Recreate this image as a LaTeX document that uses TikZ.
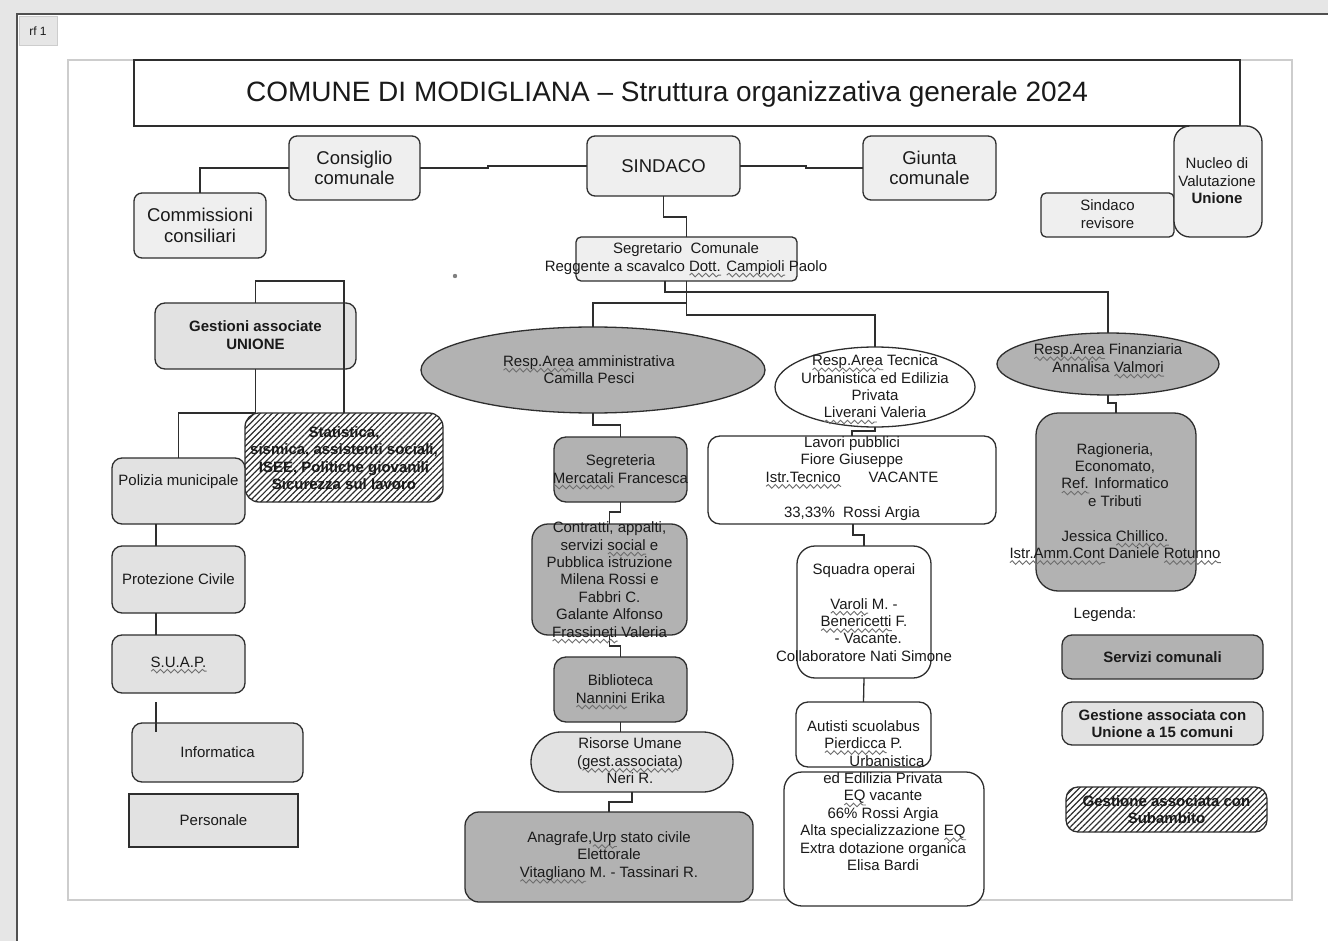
\documentclass[tikz,border=0pt]{standalone}
\usepackage{fontspec}
\setmainfont{Liberation Sans}
\usetikzlibrary{shapes.geometric,patterns.meta,decorations.pathmorphing}
\definecolor{ln}{HTML}{2E2E2E}
\definecolor{lightf}{HTML}{EFEFEF}
\definecolor{darkf}{HTML}{B2B2B2}
\definecolor{marble}{HTML}{E2E2E2}
\definecolor{txtc}{HTML}{1A1A1A}
\definecolor{frameg}{HTML}{E6E6E6}
\definecolor{framel}{HTML}{505050}
\definecolor{pageg}{HTML}{CDCDCD}
\definecolor{sqc}{HTML}{6E6E6E}
\newsavebox\sqbox
\newlength\sqlen
\newcommand\sq[1]{\sbox\sqbox{#1}\setlength\sqlen{\wd\sqbox}\rlap{\smash{\tikz[baseline=0pt]\draw[sqc,line width=0.9pt,decorate,decoration={snake,amplitude=1.8pt,segment length=7pt}] (0pt,-4pt) -- (\sqlen,-4pt);}}#1}
\newcommand\myfs{\fontsize{15}{17.4}\selectfont}
\newcommand\myfm{\fontsize{18.5}{20.5}\selectfont}
\newcommand\myft{\fontsize{28}{32}\selectfont}
\begin{document}
\begin{tikzpicture}[x=1pt,y=-1pt,
  every node/.style={inner sep=0pt,outer sep=0pt},
  wh/.style 2 args={minimum width=#1pt,minimum height=#2pt},
  boxl/.style={draw=ln,line width=1.3pt,fill=lightf,rounded corners=8pt},
  boxd/.style={draw=ln,line width=1.3pt,fill=darkf,rounded corners=8pt},
  boxm/.style={draw=ln,line width=1.3pt,fill=marble,rounded corners=8pt},
  boxw/.style={draw=ln,line width=1.3pt,fill=white,rounded corners=10pt},
  boxh/.style={draw=ln,line width=1.3pt,preaction={fill=white},
     pattern={Lines[angle=45,distance=4.2pt,line width=1.2pt]},pattern color=ln,rounded corners=10pt},
  ell/.style={ellipse,draw=ln,line width=1.3pt},
  txt/.style={align=center,font=\myfs,text=txtc},
  btxt/.style={align=center,font=\myfs\bfseries,text=txtc},
  conn/.style={draw=ln,line width=1.3pt}
]
\useasboundingbox (0,0) rectangle (1328,941);
% window frame
\fill[white] (0,0) rectangle (1328,941);
\fill[frameg] (0,0) rectangle (1328,13);
\fill[frameg] (0,0) rectangle (16,941);
\draw[framel,line width=2.5pt] (17,941) -- (17,14) -- (1328,14);
\node[draw=pageg,fill=frameg,line width=0.8pt,wh={38}{29}] (tab) at (38,31) {};
\node[font=\fontsize{12}{14}\selectfont,text=txtc] (tabt) at (tab) {rf 1};
% page
\node[draw=pageg,line width=1.6pt,wh={1224}{840}] (page) at (680,480) {};
% title
\node[draw=ln,line width=1.3pt,fill=white,wh={1106}{66}] (title) at (687,93) {};
\node[font=\myft,text=txtc] (titlet) at (667,94) {COMUNE DI MODIGLIANA – Struttura organizzativa generale 2024};
% top row
\node[boxl,wh={131}{64}] (cons) at (354.5,168) {};
\node[boxl,wh={153}{60}] (sind) at (663.5,166) {};
\node[boxl,wh={133}{64}] (giun) at (929.5,168) {};
\node[boxl,wh={132}{65}] (comm) at (200,225.5) {};
\node[boxl,wh={133}{44},rounded corners=5pt] (rev) at (1107.5,215) {};
\node[boxl,wh={88}{111},rounded corners=16pt] (nuc) at (1218,181.5) {};
\node[boxl,wh={221}{44},rounded corners=5pt] (seg) at (686.5,259) {};
% left column
\node[boxm,wh={201}{66},rounded corners=10pt] (gest) at (255.5,336) {};
\node[boxh,wh={198}{89},rounded corners=14pt] (stat) at (344,457.5) {};
\node[boxm,wh={133}{66},rounded corners=10pt] (pol) at (178.5,491) {};
\node[boxm,wh={133}{67},rounded corners=10pt] (prot) at (178.5,579.5) {};
\node[boxm,wh={133}{58},rounded corners=10pt] (suap) at (178.5,664) {};
\node[boxm,wh={171}{59},rounded corners=10pt] (info) at (217.5,752.5) {};
\node[boxm,wh={169}{53},rounded corners=0pt,line width=1.1pt] (pers) at (213.5,820.5) {};
% middle column
\node[ell,fill=darkf,wh={344}{86}] (amm) at (593,370) {};
\node[boxd,wh={133}{65},rounded corners=12pt] (segr) at (620.5,469.5) {};
\node[boxd,wh={155}{111},rounded corners=16pt] (contr) at (609.5,579.5) {};
\node[boxd,wh={133}{65},rounded corners=12pt] (bibl) at (620.5,689.5) {};
\node[boxm,wh={202}{60},rounded corners=30pt] (ris) at (632,762) {};
\node[boxd,wh={288}{90},rounded corners=14pt] (anag) at (609,857) {};
% technical column
\node[ell,fill=white,wh={200}{80}] (tec) at (875,387) {};
\node[boxw,wh={288}{88},rounded corners=12pt] (lav) at (852,480) {};
\node[boxw,wh={134}{132},rounded corners=18pt] (squ) at (864,612) {};
\node[boxw,wh={135}{65},rounded corners=12pt] (aut) at (863.5,734.5) {};
\node[boxw,wh={200}{134},rounded corners=18pt] (urb) at (884,839) {};
% financial column
\node[ell,fill=darkf,wh={222}{62}] (fin) at (1108,364) {};
\node[boxd,wh={160}{178},rounded corners=22pt] (rag) at (1116,502) {};
% legend
\node[boxd,wh={201}{44},rounded corners=10pt] (leg1) at (1162.5,657) {};
\node[boxm,wh={201}{43},rounded corners=10pt] (leg2) at (1162.5,723.5) {};
\node[boxh,wh={201}{45},rounded corners=12pt] (leg3) at (1166.5,809.5) {};
% stray dot
\fill[gray] (455,276) circle (2.2pt);
% connectors
\draw[conn] (cons.west) -| (comm.north);
\draw[conn] (cons.east) -- ++(68,0) |- (sind.west);
\draw[conn] (sind.east) -- ++(66,0) |- (giun.west);
\draw[conn] (sind.south) -- ++(0,21) -| (seg.north);
\draw[conn] ([xshift=-21.5pt]seg.south) -- ++(0,11) -| (fin.north);
\draw[conn] (seg.south) -- ++(0,34) -| (tec.north);
\draw[conn] (seg.south) -- ++(0,22) -| (amm.north);
\draw[conn] (gest.north) -- ++(0,-22) -| (stat.north);
\draw[conn] (gest.south) -- ++(0,44) -| (pol.north);
\draw[conn] ([xshift=-22.5pt]pol.south) -- ([xshift=-22.5pt]prot.north);
\draw[conn] ([xshift=-22.5pt]prot.south) -- ([xshift=-22.5pt]suap.north);
\draw[conn] ([xshift=-22.5pt,yshift=-9pt]suap.south) -- ([xshift=-22.5pt,yshift=-9pt]suap.south |- info.north);
\draw[conn] (amm.south) -- ++(0,12) -| (segr.north);
\draw[conn] (segr.south) -- ++(0,10) -| (contr.north);
\draw[conn] (contr.south) -- ++(0,11) -| (bibl.north);
\draw[conn] (bibl.south) -- (bibl.south |- ris.north);
\draw[conn] (ris.south) -- ++(0,10) -| (anag.north);
\draw[conn] (tec.south) -- ++(0,4) -| (lav.north);
\draw[conn] ([xshift=1pt]lav.south) -- ++(0,11) -| (squ.north);
\draw[conn] (squ.south) -- (aut.north);
\draw[conn] (fin.south) -- ++(0,8) -| (rag.north);
% texts
\node[txt,font=\myfm] (const) at (354.5,168) {Consiglio\\comunale};
\node[txt,font=\myfm] (sindt) at (663.5,166) {SINDACO};
\node[txt,font=\myfm] (giunt) at (929.5,168) {Giunta\\comunale};
\node[txt,font=\myfm] (commt) at (200,225.5) {Commissioni\\consiliari};
\node[txt] (revt) at (1107.5,214) {Sindaco\\revisore};
\node[txt] (nuct) at (1217,181) {Nucleo di\\Valutazione\\\textbf{Unione}};
\node[txt] (segt) at (686,258.5) {Segretario\ \ Comunale\\Reggente a scavalco \sq{Dott.} \sq{Campioli} Paolo};
\node[btxt] (gestt) at (255.5,335) {Gestioni associate\\UNIONE};
\node[btxt] (statt) at (344,458) {Statistica,\\sismica, assistenti sociali,\\ISEE, Politiche giovanili\\Sicurezza sul lavoro};
\node[txt] (polt) at (178.5,482) {Polizia municipale};
\node[txt] (prott) at (178.5,579) {Protezione Civile};
\node[txt] (suapt) at (178.5,662) {\sq{S.U.A.P.}};
\node[txt] (infot) at (217.5,752) {Informatica};
\node[txt] (perst) at (213.5,820) {Personale};
\node[txt] (ammt) at (589,369.5) {\sq{Resp.Area} amministrativa\\Camilla Pesci};
\node[txt] (segrt) at (620.5,469) {Segreteria\\\sq{Mercatali} Francesca};
\node[txt] (contrt) at (609.5,579.5) {Contratti, appalti,\\ servizi \sq{social} e\\Pubblica istruzione\\ Milena Rossi e\\Fabbri C.\\Galante Alfonso\\ \sq{Frassineti} Valeria};
\node[txt] (biblt) at (620.5,689) {Biblioteca\\\sq{Nannini} Erika};
\node[txt] (rist) at (630,761) {Risorse Umane\\ (\sq{gest.associata})\\Neri R.};
\node[txt] (anagt) at (609,856) {Anagrafe,\sq{Urp} stato civile\\Elettorale\\\sq{Vitagliano} M. - Tassinari R.};
\node[txt] (tect) at (875,386.5) {\sq{Resp.Area} Tecnica\\Urbanistica ed Edilizia\\Privata\\\sq{Liverani} Valeria};
\node[txt] (lavt) at (852,478.5) {Lavori pubblici\\Fiore Giuseppe\\\sq{Istr.Tecnico}\hspace{28pt}VACANTE\\\mbox{}\\33,33\%\ \ Rossi Argia};
\node[txt] (squt) at (864,612.5) {Squadra operai\\\mbox{}\\\sq{Varoli} M. -\\\sq{Benericetti} F.\\\ \ - Vacante.\\Collaboratore Nati Simone};
\node[txt] (autt) at (863.5,734.5) {Autisti scuolabus\\\sq{Pierdicca} P.};
\node[txt] (urbt) at (883,813) {\hspace*{8pt}Urbanistica\\ed Edilizia Privata\\\sq{EQ} vacante\\66\% Rossi Argia\\Alta specializzazione \sq{EQ}\\Extra dotazione organica\\Elisa Bardi};
\node[txt] (fint) at (1108,358) {\sq{Resp.Area} Finanziaria\\Annalisa \sq{Valmori}};
\node[txt] (ragt) at (1115,501) {Ragioneria,\\Economato,\\\sq{Ref.} Informatico\\e Tributi\\\mbox{}\\Jessica \sq{Chillico.}\\\sq{Istr.Amm.Cont} Daniele \sq{Rotunno}};
\node[txt] (legt) at (1105,615) {Legenda:};
\node[btxt] (leg1t) at (1162.5,657) {Servizi comunali};
\node[btxt] (leg2t) at (1162.5,723.5) {Gestione associata con\\Unione a 15 comuni};
\node[btxt] (leg3t) at (1166.5,809.5) {Gestione associata con\\Subambito};
\end{tikzpicture}
\end{document}
